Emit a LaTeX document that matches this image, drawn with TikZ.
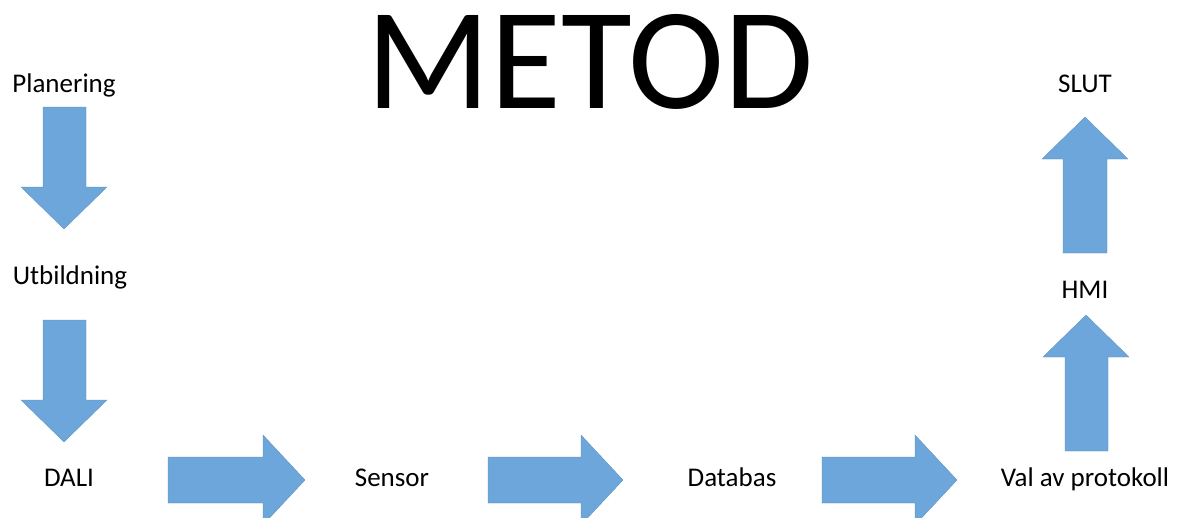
\documentclass[tikz,border=0pt]{standalone}
\usepackage{fontspec}
\setmainfont{Carlito}
\definecolor{arrowblue}{RGB}{108,166,218}
\begin{document}
\begin{tikzpicture}[x=1pt,y=-1pt,
  lbl/.style={anchor=base,inner sep=0pt,font=\fontsize{27}{30}\selectfont},
  blockarrow/.style={fill=arrowblue,draw=arrowblue!85!black,line width=0.3pt}]
\useasboundingbox (0,0) rectangle (1189,517);
% title
\node[anchor=base,inner sep=0pt,font=\fontsize{145}{150}\selectfont] (title) at (590,108) {METOD};
% labels
\node[lbl] (plan) at (64,92) {Planering};
\node[lbl] (utb) at (70,284) {Utbildning};
\node[lbl] (dali) at (69,486) {DALI};
\node[lbl] (sensor) at (392,486) {Sensor};
\node[lbl] (db) at (732,486) {Databas};
\node[lbl] (val) at (1085,486) {Val av protokoll};
\node[lbl] (hmi) at (1085,298) {HMI};
\node[lbl] (slut) at (1085,92) {SLUT};
% down arrows
\path[blockarrow] (43,107) -- (86,107) -- (86,187) -- (107,187) -- (64,229) -- (21,187) -- (43,187) -- cycle;
\path[blockarrow] (43,320) -- (86,320) -- (86,400) -- (107,400) -- (64,442) -- (21,400) -- (43,400) -- cycle;
% right arrows
\path[blockarrow] (168,457) -- (263,457) -- (263,435) -- (305,480) -- (263,525) -- (263,503) -- (168,503) -- cycle;
\path[blockarrow] (488,457) -- (581,457) -- (581,435) -- (623,480) -- (581,525) -- (581,503) -- (488,503) -- cycle;
\path[blockarrow] (822,457) -- (915,457) -- (915,435) -- (957,480) -- (915,525) -- (915,503) -- (822,503) -- cycle;
% up arrows
\path[blockarrow] (1065,451) -- (1108,451) -- (1108,357) -- (1129,357) -- (1086,315) -- (1043,357) -- (1065,357) -- cycle;
\path[blockarrow] (1063,253) -- (1107,253) -- (1107,159) -- (1128,159) -- (1085,117) -- (1042,159) -- (1063,159) -- cycle;
\end{tikzpicture}
\end{document}
